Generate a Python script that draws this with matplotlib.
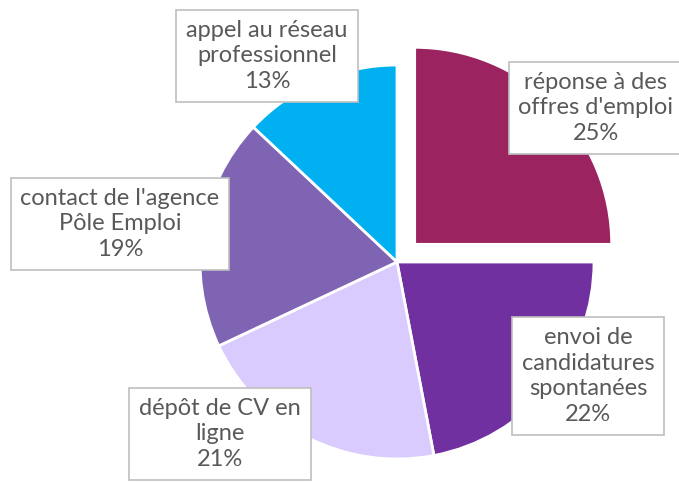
import matplotlib.pyplot as plt

labels = ["réponse à des\noffres d'emploi", "envoi de\ncandidatures\nspontanées",
          "dépôt de CV en\nligne", "contact de l'agence\nPôle Emploi",
          "appel au réseau\nprofessionnel"]
values = [25, 22, 21, 19, 13]
colors = ['#9B2360', '#7030A0', '#D9CBFE', '#8064B4', '#00B0F0']
explode = [25, 0, 0, 0, 0]  # in pixels (pie explode is in data units)
# label box centres in pixels (x from left, y from top)
label_pos = [(596, 108), (588, 376), (220, 434), (120, 224), (267, 56)]

W, H = 679, 482
fig = plt.figure(figsize=(W / 100, H / 100), dpi=100)
ax = fig.add_axes([0, 0, 1, 1])

ax.pie(values, colors=colors, explode=explode, startangle=90, counterclock=False,
       center=(397, H - 262), radius=197, frame=True,
       wedgeprops=dict(edgecolor='white', linewidth=2))
ax.set_xlim(0, W)
ax.set_ylim(0, H)
ax.axis('off')

for lab, v, (px, py) in zip(labels, values, label_pos):
    ax.text(px, H - py, f"{lab}\n{v}%", ha='center', va='center', fontsize=17,
            family='Lato', color='#595959', linespacing=1.28,
            bbox=dict(boxstyle='square,pad=0.42', fc='white', ec='#BFBFBF', lw=1.2))

fig.savefig('out.png', dpi=100)
